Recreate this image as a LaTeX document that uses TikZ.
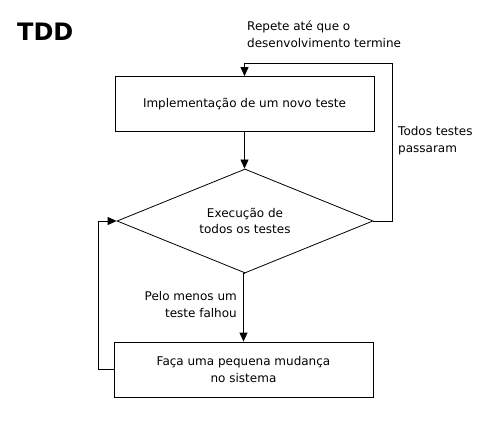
\documentclass[tikz,border=0pt]{standalone}
\usepackage{fontspec}
\setmainfont{DejaVu Sans}
\usetikzlibrary{arrows.meta,shapes.geometric}
\tikzset{
  boxnode/.style={draw, line width=0.8pt, minimum width=259pt, minimum height=55pt, inner sep=0pt, align=center, font=\fontsize{12}{16.5}\selectfont},
  decnode/.style={draw, line width=0.8pt, diamond, aspect=2.46, minimum width=256pt, minimum height=104pt, inner sep=0pt, align=center, font=\fontsize{12}{16.5}\selectfont},
  lbl/.style={inner sep=0pt, font=\fontsize{12}{17}\selectfont},
  conn/.style={line width=0.8pt},
  arr/.style={conn, -{Triangle[length=9pt,width=8pt]}}
}
\begin{document}
\begin{tikzpicture}[x=1pt,y=-1pt]
\useasboundingbox (0,0) rectangle (493,422);
\node[anchor=base west, inner sep=0pt, font=\fontsize{24}{24}\selectfont\bfseries] (title) at (17,41) {TDD};
\node[boxnode] (impl) at (244.5,104) {Implementação de um novo teste};
\node[decnode] (exec) at (245,221) {Execução de\\todos os testes};
\node[boxnode] (fix) at (243.5,369.5) {Faça uma pequena mudança\\no sistema};
\coordinate (tr) at (392,63);
\coordinate (tl) at (244.5,63);
\coordinate (bl) at (98,369.5);
\coordinate (ml) at (98,221);
\node[lbl, anchor=west, align=left] (rep) at (247,34) {Repete até que o\\desenvolvimento termine};
\node[lbl, anchor=west, align=left] (pass) at (398,141) {Todos testes\\passaram};
\node[lbl, anchor=east, align=right] (fail) at (237,305) {Pelo menos um\\teste falhou};
\draw[arr] (impl.south) -- (impl.south |- exec.north);
\draw[arr] (exec.east) -- (exec.east -| tr) -- (tr) -- (tl) -- (impl.north);
\draw[arr] (exec.south) -- (exec.south -| fix.north) -- (fix.north);
\draw[arr] (fix.west) -- (bl) -- (ml) -- (exec.west);
\end{tikzpicture}
\end{document}
